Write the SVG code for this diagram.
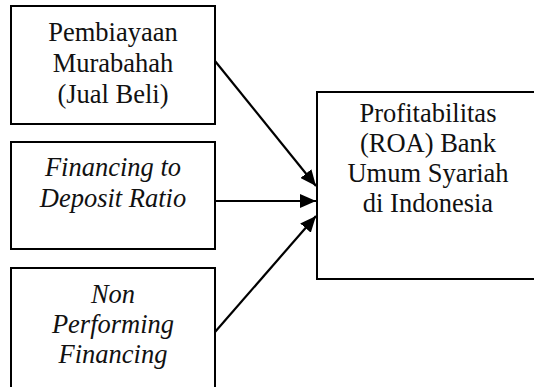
<svg xmlns="http://www.w3.org/2000/svg" width="534" height="387" viewBox="0 0 534 387">
<style>
.box{fill:#fff;stroke:#000;stroke-width:2}
.t{font-family:"Liberation Serif","Times New Roman",serif;font-size:26.5px;fill:#111;text-anchor:middle}
.i{font-style:italic}
.c{stroke:#000;stroke-width:2.2;fill:none}
</style>
<defs>
<marker id="ah" viewBox="0 0 16 14" refX="16" refY="7" markerWidth="16" markerHeight="14" markerUnits="userSpaceOnUse" orient="auto">
<path d="M0,0 L16,7 L0,14 Z" fill="#000"/>
</marker>
</defs>
<rect width="534" height="387" fill="#fff"/>
<g id="node-murabahah">
<rect class="box" x="11" y="6" width="204" height="118"/>
<text class="t" x="113" y="41">Pembiayaan</text>
<text class="t" x="113" y="72">Murabahah</text>
<text class="t" x="113" y="103">(Jual Beli)</text>
</g>
<g id="node-fdr">
<rect class="box" x="11" y="142" width="204" height="107"/>
<text class="t i" x="113" y="176">Financing to</text>
<text class="t i" x="113" y="207">Deposit Ratio</text>
</g>
<g id="node-npf">
<rect class="box" x="11" y="268" width="204" height="130"/>
<text class="t i" x="113" y="303">Non</text>
<text class="t i" x="113" y="333">Performing</text>
<text class="t i" x="113" y="363">Financing</text>
</g>
<g id="node-roa">
<rect class="box" x="317" y="92" width="230" height="187"/>
<text class="t" x="428" y="122">Profitabilitas</text>
<text class="t" x="428" y="152">(ROA) Bank</text>
<text class="t" x="428" y="182">Umum Syariah</text>
<text class="t" x="428" y="212">di Indonesia</text>
</g>
<g id="connectors">
<line class="c" x1="215" y1="61" x2="316" y2="186" marker-end="url(#ah)"/>
<line class="c" x1="215" y1="201" x2="316" y2="201" marker-end="url(#ah)"/>
<line class="c" x1="215" y1="332" x2="316" y2="216" marker-end="url(#ah)"/>
</g>
</svg>
